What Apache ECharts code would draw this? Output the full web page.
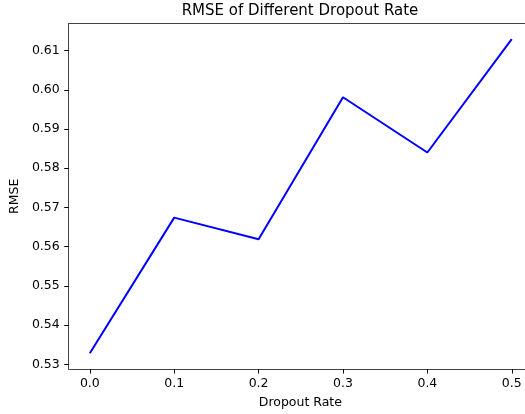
<!DOCTYPE html>
<html>
<head>
<meta charset="utf-8">
<script src="https://cdn.jsdelivr.net/npm/echarts@6/dist/echarts.min.js"></script>
<style>html,body{margin:0;padding:0;background:#fff;overflow:hidden;}#c{position:absolute;left:0;top:0;width:525px;height:414px;}</style>
</head>
<body>
<div id="c"></div>
<script>
const dropoutRates = [0.0, 0.1, 0.2, 0.3, 0.4, 0.5];
const rmseValues = [0.5328, 0.5674, 0.5619, 0.5981, 0.5840, 0.6129];
const xTicks = [0.0, 0.1, 0.2, 0.3, 0.4, 0.5];
const yTicks = [0.53, 0.54, 0.55, 0.56, 0.57, 0.58, 0.59, 0.60, 0.61];
const titleText = 'RMSE of Different Dropout Rate';
const xName = 'Dropout Rate';
const yName = 'RMSE';

const FONT = 'DejaVu Sans';
const chart = echarts.init(document.getElementById('c'), null, {renderer: 'canvas'});
const spine = '#444';
chart.setOption({
  animation: false,
  backgroundColor: '#fff',
  grid: {left: 68, right: 0, top: 23.5, bottom: 43},
  graphic: [{
    type: 'text', x: 300, y: 11,
    style: {text: titleText, font: '15px "DejaVu Sans"', fill: '#000', textAlign: 'center', textVerticalAlign: 'middle'}
  }, {
    type: 'line', shape: {x1: 68, y1: 23.5, x2: 525, y2: 23.5},
    style: {stroke: spine, lineWidth: 1}
  }],
  xAxis: {
    type: 'value', min: -0.025, max: 0.5157,
    name: xName, nameLocation: 'middle', nameGap: 27,
    nameTextStyle: {fontFamily: FONT, fontSize: 12.5, color: '#000', padding: [0, 0, 0, 7]},
    axisLine: {show: true, onZero: false, lineStyle: {color: spine, width: 1}},
    axisTick: {show: true, length: 4.5, lineStyle: {color: '#000', width: 1}, customValues: xTicks},
    axisLabel: {fontFamily: FONT, fontSize: 12.5, color: '#000', margin: 8, customValues: xTicks,
      formatter: v => Number(v).toFixed(1)},
    splitLine: {show: false}
  },
  yAxis: {
    type: 'value', min: 0.5288, max: 0.6169,
    name: yName, nameLocation: 'middle', nameGap: 45, nameRotate: 90,
    nameTextStyle: {fontFamily: FONT, fontSize: 12.5, color: '#000'},
    axisLine: {show: true, onZero: false, lineStyle: {color: spine, width: 1}},
    axisTick: {show: true, length: 4.5, lineStyle: {color: '#000', width: 1}, customValues: yTicks},
    axisLabel: {fontFamily: FONT, fontSize: 12.5, color: '#000', margin: 9, customValues: yTicks,
      formatter: v => Number(v).toFixed(2)},
    splitLine: {show: false}
  },
  series: [{
    type: 'line',
    data: dropoutRates.map((x, i) => [x, rmseValues[i]]),
    showSymbol: false, symbol: 'none',
    lineStyle: {color: '#0000ff', width: 2},
    itemStyle: {color: '#0000ff'}
  }]
});
</script>
</body>
</html>
